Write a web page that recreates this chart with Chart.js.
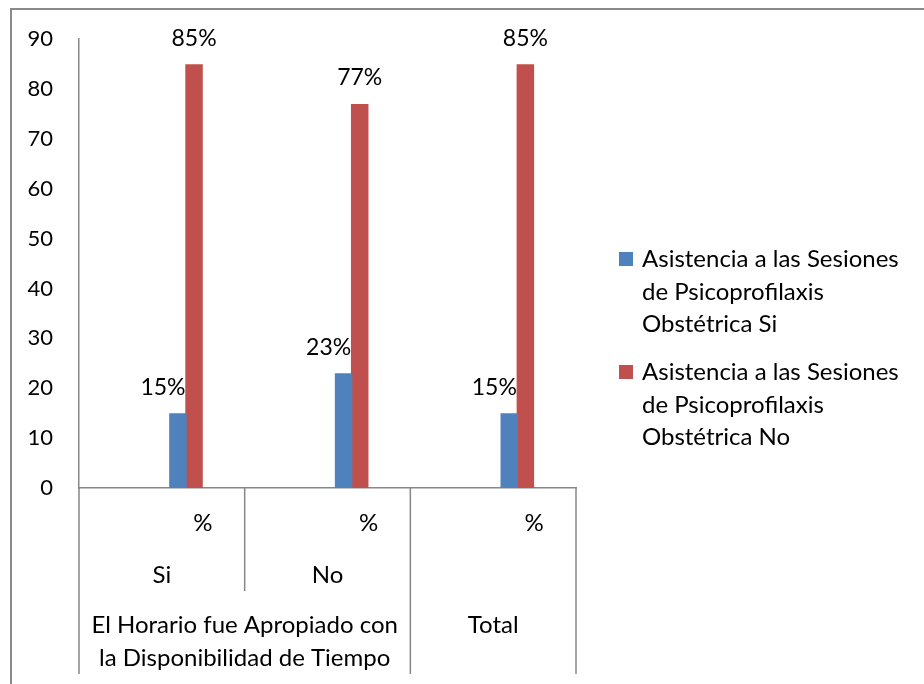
<!DOCTYPE html>
<html>
<head>
<meta charset="utf-8">
<script src="https://cdn.jsdelivr.net/npm/chart.js@4/dist/chart.umd.min.js"></script>
<style>
  html, body { margin: 0; padding: 0; background: #fff; }
  canvas { display: block; }
</style>
</head>
<body>
<canvas id="grafico" width="924" height="684"></canvas>
<script>
// --- Datos ---
const CATEGORIAS = ['Si', 'No', 'Total'];
const SUBETIQUETA = '%';
const GRUPO_SUPERIOR = ['El Horario fue Apropiado con', 'la Disponibilidad de Tiempo'];
const ASISTENCIA_SI = [15, 23, 15];
const ASISTENCIA_NO = [85, 77, 85];
const LEYENDA_SI = ['Asistencia a las Sesiones', 'de Psicoprofilaxis', 'Obstétrica Si'];
const LEYENDA_NO = ['Asistencia a las Sesiones', 'de Psicoprofilaxis', 'Obstétrica No'];
const Y_MIN = 0, Y_MAX = 90, Y_PASO = 10;

const AZUL = '#4F81BD';
const ROJO = '#C0504D';
const GRIS = '#878787';
const FUENTE = 'Lato, "Noto Sans", sans-serif';
const TAM_NUM = 22;   // numeros del eje y
const TAM_DATO = 23;  // etiquetas de datos
const TAM_TXT = 24;   // textos de eje x y leyenda

// huecos vacios para que las barras queden desplazadas como en el original
const vacio = () => ({ label: '', data: CATEGORIAS.map(() => null), backgroundColor: 'transparent' });

// --- Borde exterior ---
const marco = {
    id: 'marco',
    beforeDraw(chart) {
        const ctx = chart.ctx;
        ctx.save();
        ctx.strokeStyle = '#8a8a8a';
        ctx.lineWidth = 2;
        ctx.beginPath();
        ctx.moveTo(11, chart.height);
        ctx.lineTo(11, 9);
        ctx.lineTo(chart.width, 9);
        ctx.stroke();
        ctx.restore();
    }
};

// --- Etiquetas de datos ---
const etiquetas = {
    id: 'etiquetas',
    afterDatasetsDraw(chart) {
        const ctx = chart.ctx;
        ctx.save();
        ctx.font = TAM_DATO + 'px ' + FUENTE;
        ctx.fillStyle = '#000';
        ctx.textAlign = 'center';
        ctx.textBaseline = 'middle';
        chart.data.datasets.forEach((ds, i) => {
            if (!ds.label) return;
            const desp = ds.backgroundColor === AZUL ? -15 : 0;
            chart.getDatasetMeta(i).data.forEach((bar, j) => {
                ctx.fillText(ds.data[j] + '%', bar.x + desp, bar.y - 26);
            });
        });
        ctx.restore();
    }
};

// --- Eje X en forma de tabla (multinivel) ---
const tablaEjeX = {
    id: 'tablaEjeX',
    afterDraw(chart) {
        const { ctx, chartArea: a, scales: { x } } = chart;
        const ancho = x.getPixelForValue(1) - x.getPixelForValue(0);
        const centros = CATEGORIAS.map((c, i) => x.getPixelForValue(i));
        ctx.save();
        ctx.strokeStyle = GRIS;
        ctx.lineWidth = 1.5;
        const bordes = [a.left, centros[0] + ancho / 2, centros[1] + ancho / 2, a.right];
        bordes.forEach((bx, i) => {
            ctx.beginPath();
            ctx.moveTo(bx, a.bottom);
            ctx.lineTo(bx, a.bottom + (i === 1 ? 103 : 186));
            ctx.stroke();
        });

        ctx.font = TAM_TXT + 'px ' + FUENTE;
        ctx.fillStyle = '#000';
        ctx.textAlign = 'center';
        ctx.textBaseline = 'middle';
        centros.forEach(cx => ctx.fillText(SUBETIQUETA, cx + 41, a.bottom + 35));
        ctx.fillText(CATEGORIAS[0], centros[0], a.bottom + 87);
        ctx.fillText(CATEGORIAS[1], centros[1], a.bottom + 87);
        const medio = (centros[0] + centros[1]) / 2;
        GRUPO_SUPERIOR.forEach((t, k) => ctx.fillText(t, medio, a.bottom + 137 + k * 33));
        ctx.fillText(CATEGORIAS[2], centros[2], a.bottom + 137);
        ctx.restore();
    }
};

// --- Leyenda ---
const leyenda = {
    id: 'leyenda',
    afterDraw(chart) {
        const ctx = chart.ctx;
        const items = [[AZUL, LEYENDA_SI], [ROJO, LEYENDA_NO]];
        ctx.save();
        ctx.font = TAM_TXT + 'px ' + FUENTE;
        ctx.textAlign = 'left';
        ctx.textBaseline = 'alphabetic';
        items.forEach(([color, lineas], k) => {
            const top = 252 + k * 113;
            ctx.fillStyle = color;
            ctx.fillRect(619, top, 14, 14);
            ctx.fillStyle = '#000';
            lineas.forEach((l, n) => ctx.fillText(l, 642, top + 15 + n * 32.5));
        });
        ctx.restore();
    }
};

const ctx = document.getElementById('grafico').getContext('2d');
new Chart(ctx, {
    type: 'bar',
    data: {
        labels: CATEGORIAS,
        datasets: [
            vacio(), vacio(), vacio(),
            { label: LEYENDA_SI.join(' '), data: ASISTENCIA_SI, backgroundColor: AZUL },
            { label: LEYENDA_NO.join(' '), data: ASISTENCIA_NO, backgroundColor: ROJO }
        ]
    },
    options: {
        responsive: false,
        animation: false,
        categoryPercentage: 0.486,
        barPercentage: 1.087,
        layout: { padding: { top: 38, right: 348, left: 0, bottom: 0 } },
        plugins: { legend: { display: false }, tooltip: { enabled: false } },
        scales: {
            x: {
                grid: { display: false },
                ticks: { display: false },
                border: { color: GRIS, width: 1.5 },
                afterFit: s => { s.height = 196; }
            },
            y: {
                min: Y_MIN, max: Y_MAX,
                ticks: { stepSize: Y_PASO, color: '#000', padding: 26, font: { family: FUENTE, size: TAM_NUM } },
                grid: { display: false, drawTicks: false },
                border: { color: GRIS, width: 1.5 },
                afterFit: s => { s.width = 79; }
            }
        }
    },
    plugins: [marco, etiquetas, tablaEjeX, leyenda]
});
</script>
</body>
</html>
